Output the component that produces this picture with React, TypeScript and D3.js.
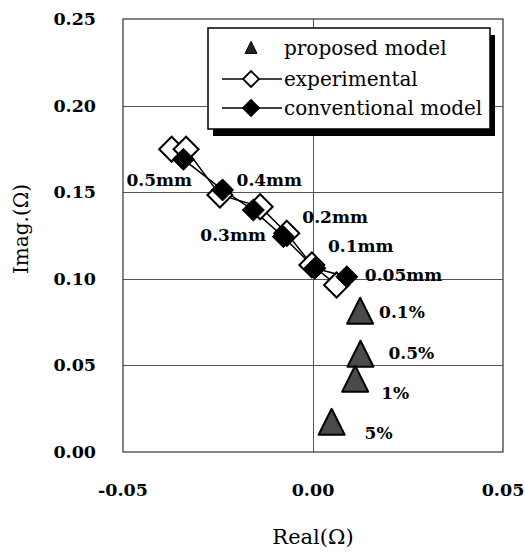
import React, { useEffect, useRef } from "react";
import * as d3 from "d3";

// values
const expReal = [-0.0372, -0.0334, -0.0245, -0.0139, -0.0069, -0.0003, 0.0062];
const expImag = [0.1748, 0.1748, 0.1484, 0.1416, 0.1263, 0.108, 0.0964];

const convReal = [-0.0341, -0.0238, -0.0157, -0.0078, 0.0005, 0.0089];
const convImag = [0.169, 0.1513, 0.1397, 0.1243, 0.1061, 0.1012];
const convLabels = ["0.5mm", "0.4mm", "0.3mm", "0.2mm", "0.1mm", "0.05mm"];

const propReal = [0.0124, 0.0125, 0.0111, 0.0049];
const propImag = [0.0808, 0.056, 0.0416, 0.0167];
const propLabels = ["0.1%", "0.5%", "1%", "5%"];

const xTicks = [-0.05, 0, 0.05];
const yTicks = [0, 0.05, 0.1, 0.15, 0.2, 0.25];
const legendLabels = ["proposed model", "experimental", "conventional model"];

// label offsets (px) from their marker: left edge / vertical centre
const convLabelOffset = [[-57, 21], [14, -10], [-53, 25], [19, -20], [13, -22], [18, -2]];
const propLabelOffset = [[19, 0], [28, -2], [26, 13], [33, 10]];

const W = 525;
const H = 553;
const SERIF = "'DejaVu Serif', serif";

const App = () => {
  const ref = useRef<SVGSVGElement>(null);

  useEffect(() => {
    const svg = d3.select(ref.current);
    svg.selectAll("*").remove();

    const x = d3.scaleLinear().domain([-0.05, 0.05]).range([123, 503]);
    const y = d3.scaleLinear().domain([0, 0.25]).range([452, 19]);

    svg.append("rect").attr("width", W).attr("height", H).attr("fill", "#fff");

    // grid
    const grid = svg.append("g").attr("stroke", "#555").attr("stroke-width", 1);
    [0.05, 0.1, 0.15, 0.2].forEach((v) => {
      grid.append("line").attr("x1", x(-0.05)).attr("x2", x(0.05))
        .attr("y1", Math.round(y(v)) + 0.5).attr("y2", Math.round(y(v)) + 0.5);
    });
    grid.append("line").attr("x1", Math.round(x(0)) + 0.5).attr("x2", Math.round(x(0)) + 0.5)
      .attr("y1", y(0.25)).attr("y2", y(0));

    svg.append("rect")
      .attr("x", x(-0.05)).attr("y", y(0.25))
      .attr("width", x(0.05) - x(-0.05)).attr("height", y(0) - y(0.25))
      .attr("fill", "none").attr("stroke", "#333").attr("stroke-width", 1.2);

    // tick labels
    const fmt = (d: number) => d3.format(".2f")(d).replace("−", "-");
    svg.append("g").selectAll("text").data(yTicks).join("text")
      .attr("x", 96).attr("y", (d) => y(d))
      .attr("text-anchor", "end").attr("dominant-baseline", "central")
      .attr("font-family", SERIF).attr("font-weight", "bold").attr("font-size", 17.5)
      .text((d) => fmt(d));
    svg.append("g").selectAll("text").data(xTicks).join("text")
      .attr("x", (d) => x(d)).attr("y", 490)
      .attr("text-anchor", "middle").attr("dominant-baseline", "central")
      .attr("font-family", SERIF).attr("font-weight", "bold").attr("font-size", 17.5)
      .text((d) => fmt(d));

    // axis titles
    svg.append("text").attr("x", x(0)).attr("y", 537)
      .attr("text-anchor", "middle").attr("dominant-baseline", "central")
      .attr("font-family", SERIF).attr("font-size", 21).text("Real(Ω)");
    svg.append("text").attr("transform", "translate(21,229) rotate(-90)")
      .attr("text-anchor", "middle").attr("dominant-baseline", "central")
      .attr("font-family", SERIF).attr("font-size", 20).text("Imag.(Ω)");

    const diamond = (cx: number, cy: number, r: number) =>
      `M${cx},${cy - r}L${cx + r},${cy}L${cx},${cy + r}L${cx - r},${cy}Z`;
    const tri = (cx: number, cy: number, s: number) =>
      `M${cx},${cy - s * 0.55}L${cx + s / 2},${cy + s * 0.45}L${cx - s / 2},${cy + s * 0.45}Z`;

    const expPts = expReal.map((r, i) => [x(r), y(expImag[i])] as [number, number]);
    const convPts = convReal.map((r, i) => [x(r), y(convImag[i])] as [number, number]);
    const propPts = propReal.map((r, i) => [x(r), y(propImag[i])] as [number, number]);

    const line = d3.line();
    svg.append("path").attr("d", line(expPts)).attr("fill", "none").attr("stroke", "#000").attr("stroke-width", 1.5);
    svg.append("path").attr("d", line(convPts)).attr("fill", "none").attr("stroke", "#000").attr("stroke-width", 1.5);

    svg.append("g").selectAll("path").data(expPts).join("path")
      .attr("d", (d) => diamond(d[0], d[1], 12.5))
      .attr("fill", "#fff").attr("stroke", "#000").attr("stroke-width", 2);
    svg.append("g").selectAll("path").data(convPts).join("path")
      .attr("d", (d) => diamond(d[0], d[1], 11))
      .attr("fill", "#000").attr("stroke", "#000").attr("stroke-width", 1);
    svg.append("g").selectAll("path").data(propPts).join("path")
      .attr("d", (d) => tri(d[0], d[1], 26))
      .attr("fill", "#4a4a4a").attr("stroke", "#000").attr("stroke-width", 2).attr("stroke-linejoin", "round");

    const lbl = svg.append("g").attr("font-family", SERIF).attr("font-weight", "bold").attr("font-size", 17)
      .attr("dominant-baseline", "central");
    convLabels.forEach((t, i) => {
      lbl.append("text").attr("x", convPts[i][0] + convLabelOffset[i][0])
        .attr("y", convPts[i][1] + convLabelOffset[i][1]).text(t);
    });
    propLabels.forEach((t, i) => {
      lbl.append("text").attr("x", propPts[i][0] + propLabelOffset[i][0])
        .attr("y", propPts[i][1] + propLabelOffset[i][1]).text(t);
    });

    // legend
    const lg = svg.append("g");
    lg.append("rect").attr("x", 213).attr("y", 35).attr("width", 282).attr("height", 101).attr("fill", "#000");
    lg.append("rect").attr("x", 208).attr("y", 28).attr("width", 282).attr("height", 101)
      .attr("fill", "#fff").attr("stroke", "#000").attr("stroke-width", 1.5);
    const rowY = [48, 79, 108];
    lg.append("path").attr("d", tri(251, rowY[0], 12)).attr("fill", "#222").attr("stroke", "#000").attr("stroke-width", 1);
    [1, 2].forEach((k) => {
      lg.append("line").attr("x1", 222).attr("x2", 282).attr("y1", rowY[k]).attr("y2", rowY[k])
        .attr("stroke", "#000").attr("stroke-width", 1.5);
      lg.append("path").attr("d", diamond(251, rowY[k], 8))
        .attr("fill", k === 1 ? "#fff" : "#000").attr("stroke", "#000").attr("stroke-width", 1.8);
    });
    lg.selectAll("text.l").data(legendLabels).join("text")
      .attr("x", 284).attr("y", (_, i) => rowY[i])
      .attr("dominant-baseline", "central")
      .attr("font-family", SERIF).attr("font-size", 20).text((d) => d);
  }, []);

  return <svg ref={ref} width={W} height={H} style={{ position: "absolute", left: 0, top: 0 }}></svg>;
};

export default App;
